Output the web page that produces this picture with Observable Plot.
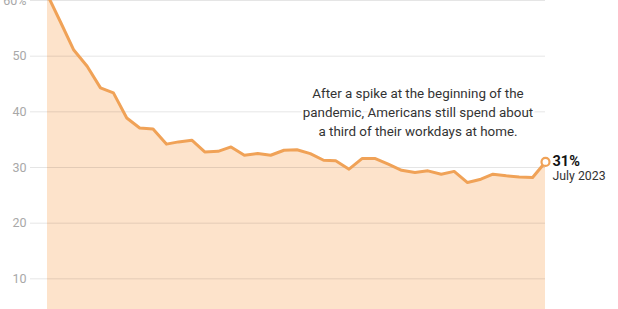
<!DOCTYPE html>
<html><head><meta charset="utf-8">
<script src="https://cdn.jsdelivr.net/npm/d3@7"></script>
<script src="https://cdn.jsdelivr.net/npm/@observablehq/plot@0.6"></script>
<style>
html,body{margin:0;padding:0;overflow:hidden;background:#fff}
#chart{width:618px;height:309px;overflow:hidden}
</style>
</head><body><div id="chart"></div>
<script>
const months = ["2020-05","2020-06","2020-07","2020-08","2020-09","2020-10","2020-11","2020-12",
  "2021-01","2021-02","2021-03","2021-04","2021-05","2021-06","2021-07","2021-08","2021-09","2021-10","2021-11","2021-12",
  "2022-01","2022-02","2022-03","2022-04","2022-05","2022-06","2022-07","2022-08","2022-09","2022-10","2022-11","2022-12",
  "2023-01","2023-02","2023-03","2023-04","2023-05","2023-06","2023-07"];
const values = [61.0,56.0,51.1,48.2,44.3,43.4,38.9,37.1,36.9,34.2,34.6,34.9,32.8,32.9,33.7,32.2,32.5,32.2,33.1,33.2,
  32.5,31.3,31.2,29.7,31.6,31.6,30.6,29.5,29.1,29.4,28.8,29.3,27.3,27.9,28.8,28.5,28.3,28.2,31.0];
const yTicks = [10,20,30,40,50,60];
const noteText = "After a spike at the beginning of the\npandemic, Americans still spend about\na third of their workdays at home.";
const noteDate = "2022-09-08";
const noteValue = 40.2;
const endValueLabel = "31%";
const endDateLabel = "July 2023";

const parse = d3.utcParse("%Y-%m");
const data = months.map((m, i) => ({date: parse(m), value: values[i]}));
const last = data[data.length - 1];
const orange = "#f0a257";

const chart = Plot.plot({
  width: 618,
  height: 334,
  marginTop: 0,
  marginBottom: 0,
  marginLeft: 30,
  marginRight: 73,
  style: {fontFamily: "Roboto, sans-serif", background: "white"},
  x: {type: "utc", insetLeft: 17, axis: null},
  y: {domain: [0, 60], axis: null},
  marks: [
    Plot.areaY(data, {x: "date", y: "value", fill: "#fde3cb"}),
    Plot.ruleY(yTicks, {stroke: "#000", strokeOpacity: 0.1}),
    Plot.axisY(yTicks, {anchor: "left", tickSize: 0, tickPadding: 4, fontSize: 12.5, fill: "#a8a8a8",
      tickFormat: d => d === 60 ? d + "%" : String(d), label: null}),
    Plot.lineY(data, {x: "date", y: "value", stroke: orange, strokeWidth: 3, strokeLinejoin: "round"}),
    Plot.dot([last], {x: "date", y: "value", r: 4, fill: "white", stroke: orange, strokeWidth: 2.2}),
    Plot.text([{date: d3.utcParse("%Y-%m-%d")(noteDate), value: noteValue, text: noteText}],
      {x: "date", y: "value", text: "text", fontSize: 13.4, lineHeight: 1.42, fill: "#333", stroke: "white", strokeWidth: 4,
       textAnchor: "middle"}),
    Plot.text([last], {x: "date", y: "value", text: () => endValueLabel, dx: 7, dy: -1, textAnchor: "start",
       fontSize: 14.5, fontWeight: "bold", fill: "#121212"}),
    Plot.text([last], {x: "date", y: "value", text: () => endDateLabel, dx: 7, dy: 14, textAnchor: "start",
       fontSize: 12.3, fill: "#333"})
  ]
});
document.getElementById("chart").appendChild(chart);
</script>
</body></html>
